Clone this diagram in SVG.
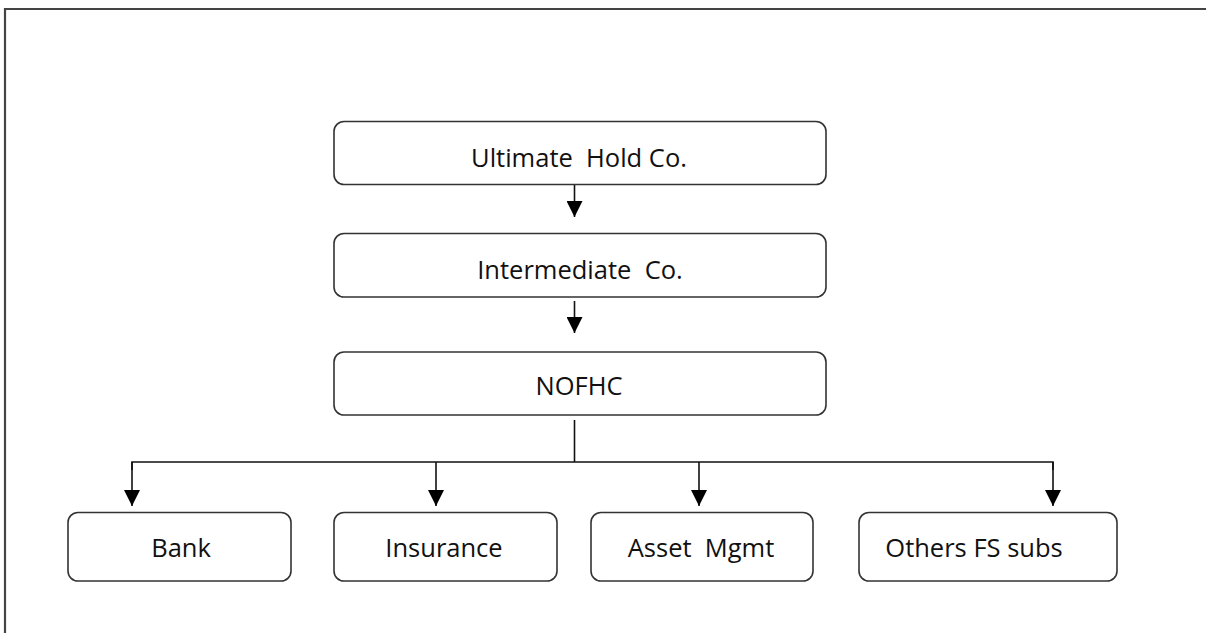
<svg xmlns="http://www.w3.org/2000/svg" width="1206" height="633" viewBox="0 0 1206 633">
<defs>
<style>
.box{fill:#fff;stroke:#333;stroke-width:1.6}
.lbl{font-family:"Open Sans","Liberation Sans",sans-serif;font-size:25.5px;fill:#111;text-anchor:middle}
.con{fill:none;stroke:#111;stroke-width:1.6}
.frame{fill:none;stroke:#444;stroke-width:2.2}
</style>
<marker id="ah" markerUnits="userSpaceOnUse" markerWidth="16" markerHeight="16" viewBox="0 0 16 16" refX="16" refY="8" orient="auto">
<path d="M0,0 L16,8 L0,16 Z" fill="#000"/>
</marker>
</defs>
<rect width="1206" height="633" fill="#fff"/>
<path class="frame" d="M5,640 V9 H1210"/>
<g id="connectors">
<line class="con" x1="574.5" y1="185" x2="574.5" y2="217" marker-end="url(#ah)"/>
<line class="con" x1="574.5" y1="301" x2="574.5" y2="333" marker-end="url(#ah)"/>
<line class="con" x1="574.5" y1="420" x2="574.5" y2="462"/>
<path class="con" d="M132,470 V462 H1053 V470"/>
<line class="con" x1="132" y1="462" x2="132" y2="506" marker-end="url(#ah)"/>
<line class="con" x1="436" y1="462" x2="436" y2="506" marker-end="url(#ah)"/>
<line class="con" x1="699" y1="462" x2="699" y2="506" marker-end="url(#ah)"/>
<line class="con" x1="1053" y1="462" x2="1053" y2="506" marker-end="url(#ah)"/>
</g>
<g id="ultimate"><rect class="box" x="334" y="121.5" width="492" height="63" rx="10"/><text class="lbl" x="579" y="167">Ultimate&#160; Hold Co.</text></g>
<g id="intermediate"><rect class="box" x="334" y="233.5" width="492" height="63.5" rx="10"/><text class="lbl" x="580" y="279">Intermediate&#160; Co.</text></g>
<g id="nofhc"><rect class="box" x="334" y="352" width="492" height="63" rx="10"/><text class="lbl" x="579" y="395">NOFHC</text></g>
<g id="bank"><rect class="box" x="68" y="512.5" width="223" height="68.5" rx="10"/><text class="lbl" x="181" y="557">Bank</text></g>
<g id="insurance"><rect class="box" x="334" y="512.5" width="223" height="68.5" rx="10"/><text class="lbl" x="444" y="557">Insurance</text></g>
<g id="asset"><rect class="box" x="591" y="512.5" width="222" height="68.5" rx="10"/><text class="lbl" x="701" y="557">Asset&#160; Mgmt</text></g>
<g id="others"><rect class="box" x="859" y="512.5" width="258" height="68.5" rx="10"/><text class="lbl" x="974" y="557">Others FS subs</text></g>
</svg>
